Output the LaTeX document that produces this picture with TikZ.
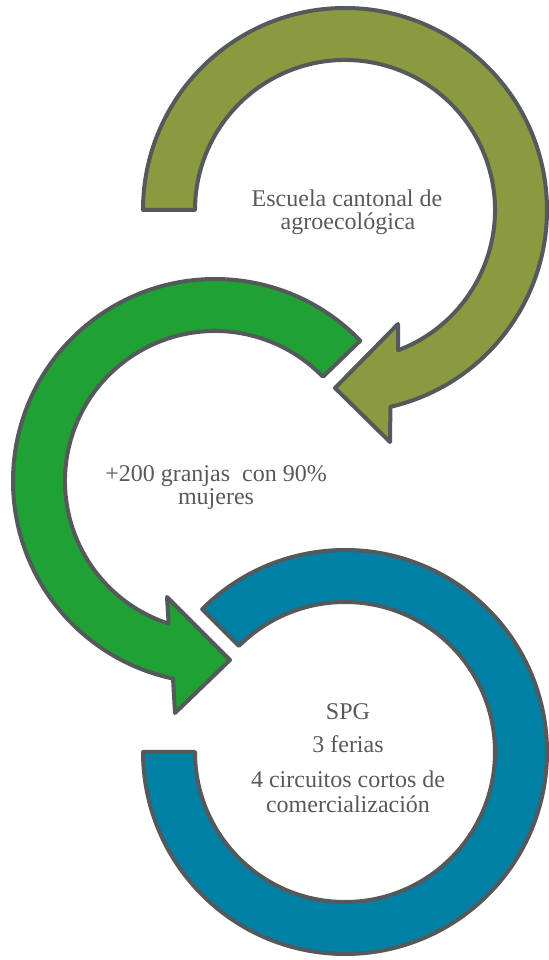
\documentclass[tikz,border=0pt]{standalone}
\usepackage{fontspec}
\setmainfont{Liberation Serif}
\usetikzlibrary{calc}
\definecolor{olivec}{HTML}{8B993F}
\definecolor{greenc}{HTML}{1FA133}
\definecolor{bluec}{HTML}{0080A4}
\definecolor{edgec}{HTML}{54595B}
\definecolor{textc}{HTML}{595959}
\tikzset{
  ring/.style={draw=edgec, line width=2pt, line join=round},
  lbl/.style={anchor=base, inner sep=0pt, text=textc, font=\fontsize{12}{12}\selectfont}
}
\begin{document}
\begin{tikzpicture}[x=0.5pt,y=0.5pt]
\useasboundingbox (0,0) rectangle (548,960);
\coordinate (C1) at (345,750);
\coordinate (C2) at (215,479);
\coordinate (C3) at (345,208);
% olive arrow
\path[ring, fill=olivec] ($(C1)+(180:202)$) arc[start angle=180, end angle=-77, radius=202]
  -- (390,518) -- (335,572) -- (398,636) -- ($(C1)+(-69.3:150)$)
  arc[start angle=-69.3, end angle=180, radius=150] -- cycle;
% green arrow
\path[ring, fill=greenc] ($(C2)+(44:202)$) arc[start angle=44, end angle=258, radius=202]
  -- (175,247) -- (230,300) -- (167,363) -- ($(C2)+(252:150)$)
  arc[start angle=252, end angle=44, radius=150] -- cycle;
% blue ring
\path[ring, fill=bluec] ($(C3)+(135:202)$) arc[start angle=135, end angle=-180, radius=202]
  -- ($(C3)+(180:150)$) arc[start angle=-180, end angle=135, radius=150] -- cycle;
% texts
\node[lbl] (t1a) at (347,753) {Escuela cantonal de};
\node[lbl] (t1b) at (348,730) {agroecológica};
\node[lbl] (t2a) at (216,478) {+200 granjas\ \ con 90\%};
\node[lbl] (t2b) at (216,455) {mujeres};
\node[lbl] (t3a) at (348,240) {SPG};
\node[lbl] (t3b) at (348,207) {3 ferias};
\node[lbl] (t3c) at (348,172) {4 circuitos cortos de};
\node[lbl] (t3d) at (348,147) {comercialización};
\end{tikzpicture}
\end{document}
